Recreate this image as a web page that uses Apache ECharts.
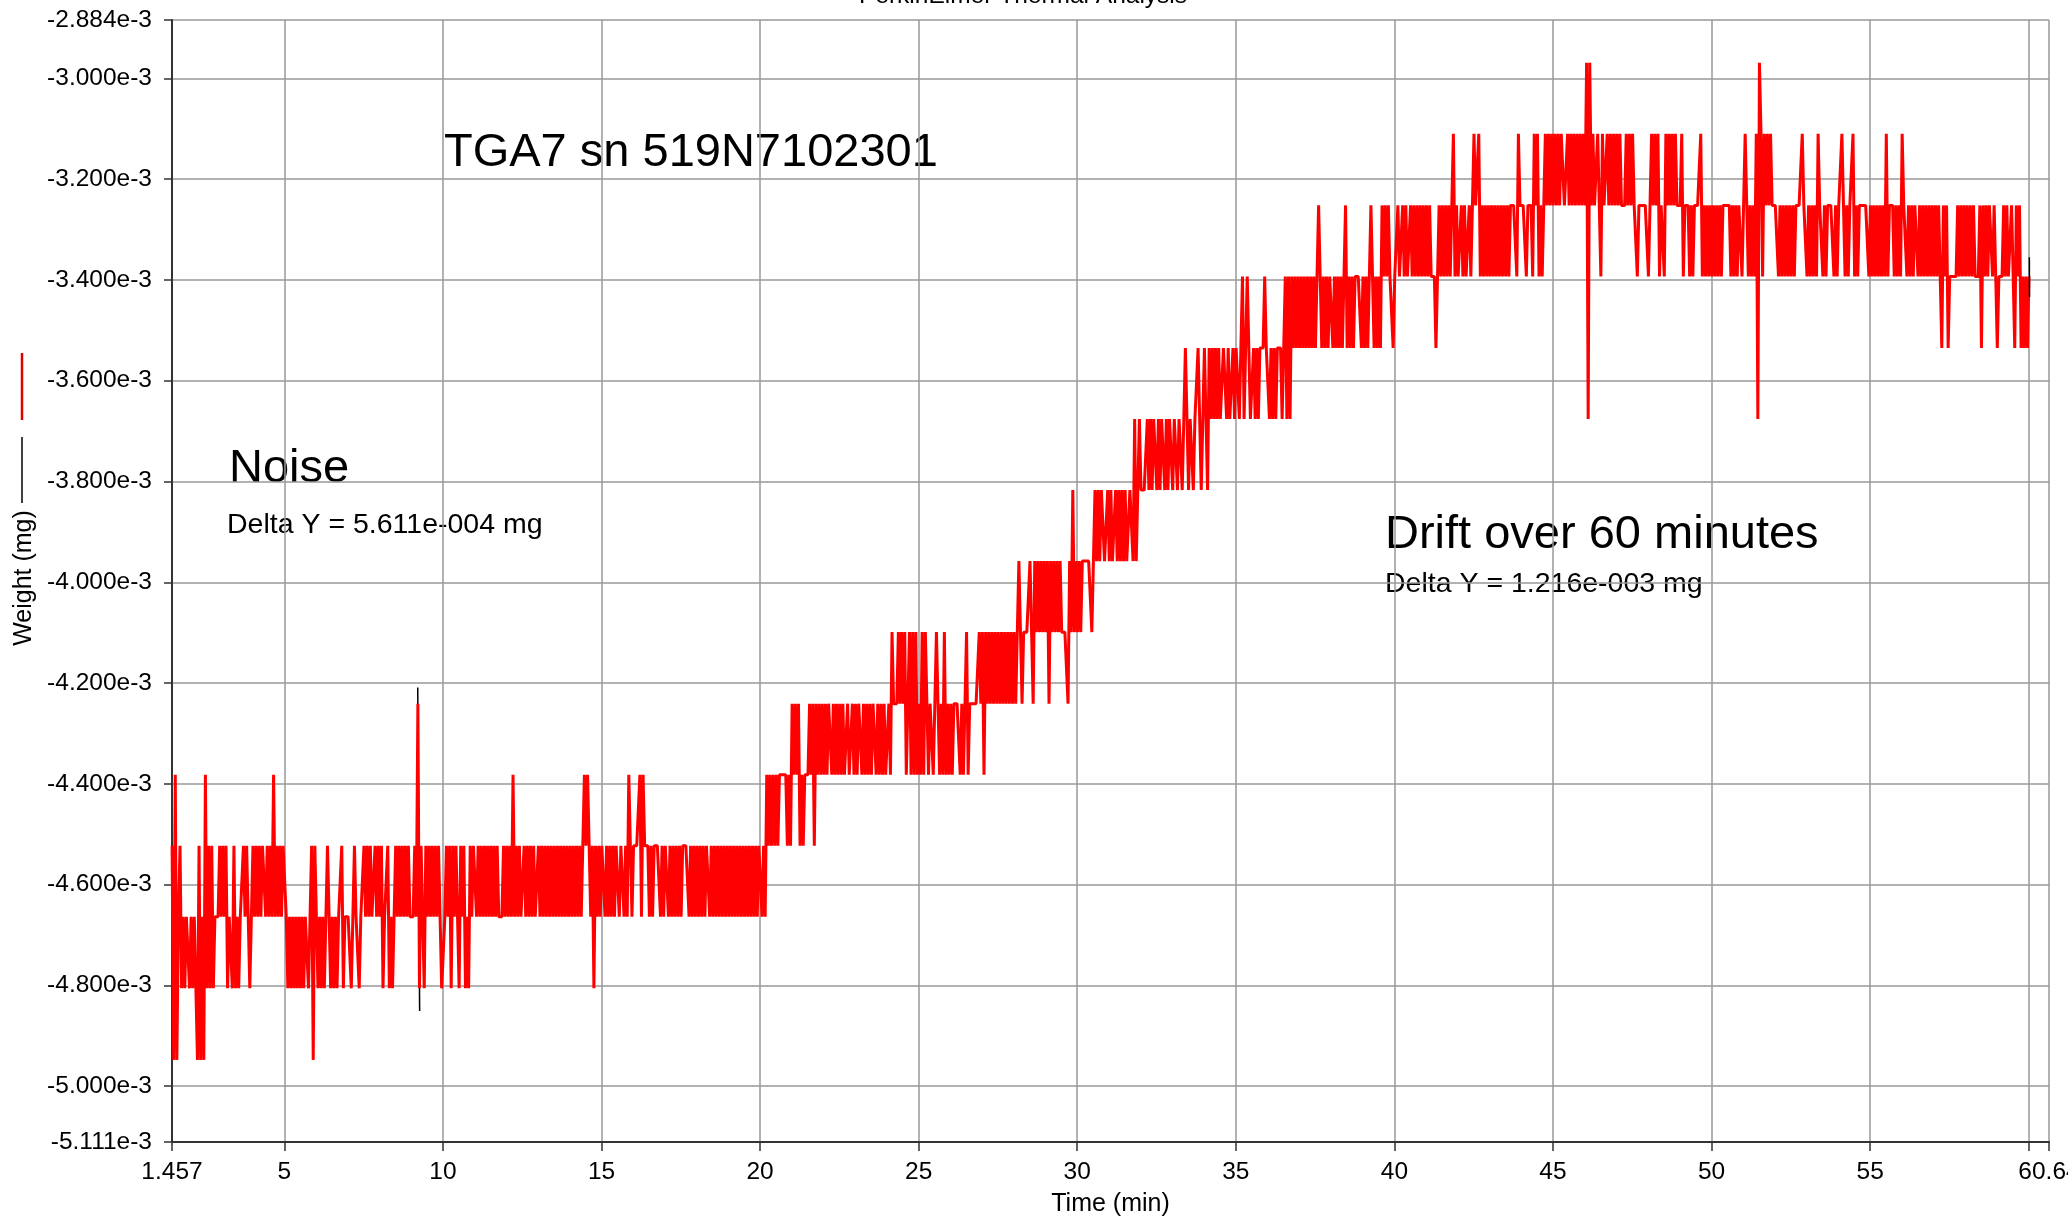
<!DOCTYPE html>
<html>
<head>
<meta charset="utf-8">
<script src="https://cdn.jsdelivr.net/npm/echarts@6/dist/echarts.min.js"></script>
<style>
html,body{margin:0;padding:0;background:#fff;}
#chart{width:2068px;height:1219px;}
</style>
</head>
<body>
<div id="chart"></div>
<script>
// ---------------- DATA ----------------
// Quantised weight levels of the balance signal (mg); a code character picks one level.
const levelCodes = '0123456789abcde';
const weightLevelsMg = [
  -4.948e-3, -4.806e-3, -4.664e-3, -4.523e-3, -4.382e-3,
  -4.241e-3, -4.099e-3, -3.958e-3, -3.817e-3, -3.676e-3,
  -3.535e-3, -3.393e-3, -3.252e-3, -3.110e-3, -2.969e-3
];
// Samples are 0.05 min apart; each string holds one minute of readings (level codes).
const sampleStepMin = 0.05;
const minuteStarts = [
  1.46, 2.01, 3.01, 4.01, 5.01, 6.01, 7.01, 8.01, 9.01, 10.01,
  11.01, 12.01, 13.01, 14.01, 15.01, 16.01, 17.01, 18.01, 19.01, 20.01,
  21.01, 22.01, 23.01, 24.01, 25.01, 26.01, 27.01, 28.01, 29.01, 30.01,
  31.01, 32.01, 33.01, 34.01, 35.01, 36.01, 37.01, 38.01, 39.01, 40.01,
  41.01, 42.01, 43.01, 44.01, 45.01, 46.01, 47.01, 48.01, 49.01, 50.01,
  51.01, 52.01, 53.01, 54.01, 55.01, 56.01, 57.01, 58.01, 59.01, 60.01
];
const minuteCodes = [
  "30402312122",
  "12121030204131312223",
  "23231221312122323212",
  "32323233232324232323",
  "32121212121212212303",
  "21212123212121223122",
  "22123221223232322323",
  "23122312123232323232",
  "22325132132323232321",
  "12323132321323121323",
  "32323232323232322232",
  "32324232322323232322",
  "32323232323232323232",
  "32323232343432313232",
  "33232323233233232432",
  "33334243332323333232",
  "33232323232333323232",
  "32323233232323232323",
  "23232323232323232323",
  "32324343434344444343",
  "54545343444545354545",
  "45455454545454454454",
  "54554545454554545454",
  "45465556565645646464",
  "54646545545654546454",
  "54555545456455555565",
  "64656565656565656565",
  "65676566667657676767",
  "67576767676666576867",
  "67677777767878788778",
  "78778787878778879789",
  "88889898998989989899",
  "89989989a9899899a989",
  "a98a9a9a9a99aa9a99a9",
  "aa9ab9aba99a9a9aaaba",
  "a9a9a9aaa9ab9b9babab",
  "ababababababcbababab",
  "bababababcabababbbba",
  "bababcbababacbcbcbba",
  "bbcbbcbcbbcbcbcbcbcb",
  "cbcbbbabcbcbcbcbcdbc",
  "bbcbcbbcbcdccdbcbcbc",
  "bcbcbcbcbcbcbccccbdc",
  "cccbcccbdcdbcbcdcdcd",
  "cdcdcddccdcdcdcdcdcd",
  "ce9ecdccdcbdccdcdcdc",
  "dcdcccdcdcdccbcccccc",
  "bcdcdcdbccbdcdcdcdcc",
  "cdbcccbcbccccdbcbcbc",
  "bcbcbcbcccccbcbcbccb",
  "cdcbcbcbd9edbdcdcdcc",
  "ccbcbcbcbcbcbccccdcc",
  "bcbcbcbdccbcbccccbcb",
  "ccdcbcbccdbcbccccccb",
  "cbcbcbcbcbdbcccbcbcb",
  "dccbcbcbccbcbcbcbcbc",
  "bcbcbacbcabbbbbcbcbc",
  "bcbcbcbbbcacbcbccbcb",
  "abbbcbcbbcbacbcababa",
  "b"
];
// Second (black) curve: only visible where it pokes out of the red trace.
const blackSpikeTimes = [9.205, 9.265];
const blackSpikeWeights = [-4.209e-3, -4.851e-3];
const blackEndTimes = [60.02, 60.025];
const blackEndWeights = [-3.355e-3, -3.434e-3];

// Axis ticks / labels
const xTickValues = [1.457, 5, 10, 15, 20, 25, 30, 35, 40, 45, 50, 55, 60, 60.64];
const xLabelValues = [1.457, 5, 10, 15, 20, 25, 30, 35, 40, 45, 50, 55, 60.64];
const yTickValues = [-5.111e-3, -5.0e-3, -4.8e-3, -4.6e-3, -4.4e-3, -4.2e-3, -4.0e-3,
  -3.8e-3, -3.6e-3, -3.4e-3, -3.2e-3, -3.0e-3, -2.884e-3];
const xMin = 1.457, xMax = 60.64, yMin = -5.111e-3, yMax = -2.884e-3;

// ---------------- BUILD ----------------
const redData = [];
minuteCodes.forEach(function (codes, i) {
  for (let j = 0; j < codes.length; j++) {
    const t = +(minuteStarts[i] + j * sampleStepMin).toFixed(3);
    redData.push([t, weightLevelsMg[levelCodes.indexOf(codes[j])]]);
  }
});
const blackSpike = blackSpikeTimes.map((t, i) => [t, blackSpikeWeights[i]]);
const blackEnd = blackEndTimes.map((t, i) => [t, blackEndWeights[i]]);

const FONT = "'Liberation Sans', Arial, Helvetica, sans-serif";
const chart = echarts.init(document.getElementById('chart'), null, {renderer: 'canvas'});

chart.setOption({
  animation: false,
  backgroundColor: '#ffffff',
  textStyle: {fontFamily: FONT},
  grid: {left: 172, right: 19, top: 20, bottom: 77, containLabel: false, outerBoundsMode: 'none'},
  xAxis: {
    type: 'value', min: xMin, max: xMax,
    name: 'Time (min)', nameLocation: 'middle', nameGap: 50,
    nameTextStyle: {color: '#000', fontSize: 25, fontFamily: FONT},
    axisLine: {show: true, onZero: false, lineStyle: {color: '#333', width: 2}},
    axisTick: {show: true, length: 9, inside: false, customValues: xTickValues, lineStyle: {color: '#333', width: 1.5}},
    axisLabel: {show: true, customValues: xLabelValues, margin: 18, color: '#000', fontSize: 24.5, fontFamily: FONT,
      formatter: v => String(v), showMinLabel: true, showMaxLabel: true},
    splitLine: {show: true, lineStyle: {color: '#999999', width: 1.5}}
  },
  yAxis: {
    type: 'value', min: yMin, max: yMax,
    axisLine: {show: true, onZero: false, lineStyle: {color: '#333', width: 2}},
    axisTick: {show: true, length: 8, inside: false, customValues: yTickValues, lineStyle: {color: '#333', width: 1.5}},
    axisLabel: {show: true, customValues: yTickValues, margin: 20, color: '#000', fontSize: 24.5, fontFamily: FONT,
      formatter: v => (v * 1000).toFixed(3) + 'e-3', showMinLabel: true, showMaxLabel: true},
    splitLine: {show: true, lineStyle: {color: '#999999', width: 1.5}}
  },
  series: [
    {name: 'Weight (black trace)', type: 'line', data: blackSpike, showSymbol: false, symbol: 'none',
      lineStyle: {color: '#000', width: 1.5}, silent: true, z: 2},
    {name: 'Weight (black trace end)', type: 'line', data: blackEnd, showSymbol: false, symbol: 'none',
      lineStyle: {color: '#000', width: 1.5}, silent: true, z: 4},
    {name: 'Weight', type: 'line', data: redData, showSymbol: false, symbol: 'none',
      lineStyle: {color: '#ff0000', width: 3, join: 'bevel'}, silent: true, z: 3}
  ],
  graphic: [
    {type: 'text', x: 1023, y: -3.5, silent: true,
      style: {text: 'PerkinElmer Thermal Analysis', font: "24.5px " + FONT, fill: '#000', align: 'center', verticalAlign: 'middle'}},
    {type: 'text', x: 24, y: 578, rotation: Math.PI / 2, silent: true,
      style: {text: 'Weight (mg)', font: "25px " + FONT, fill: '#000', align: 'center', verticalAlign: 'middle'}},
    {type: 'line', silent: true, shape: {x1: 22, y1: 353, x2: 22, y2: 420}, style: {stroke: '#e00000', lineWidth: 2.5}},
    {type: 'line', silent: true, shape: {x1: 22, y1: 437, x2: 22, y2: 503}, style: {stroke: '#000', lineWidth: 1.5}},
    {type: 'text', x: 444, y: 153, silent: true,
      style: {text: 'TGA7 sn 519N7102301', font: "47px " + FONT, fill: '#000', align: 'left', verticalAlign: 'middle'}},
    {type: 'text', x: 229, y: 469, silent: true,
      style: {text: 'Noise', font: "47px " + FONT, fill: '#000', align: 'left', verticalAlign: 'middle'}},
    {type: 'text', x: 227, y: 525, silent: true,
      style: {text: 'Delta Y = 5.611e-004 mg', font: "28.5px " + FONT, fill: '#000', align: 'left', verticalAlign: 'middle'}},
    {type: 'text', x: 1385, y: 535, silent: true,
      style: {text: 'Drift over 60 minutes', font: "47px " + FONT, fill: '#000', align: 'left', verticalAlign: 'middle'}},
    {type: 'text', x: 1385, y: 584, silent: true,
      style: {text: 'Delta Y = 1.216e-003 mg', font: "28.5px " + FONT, fill: '#000', align: 'left', verticalAlign: 'middle'}}
  ]
});
</script>
</body>
</html>
